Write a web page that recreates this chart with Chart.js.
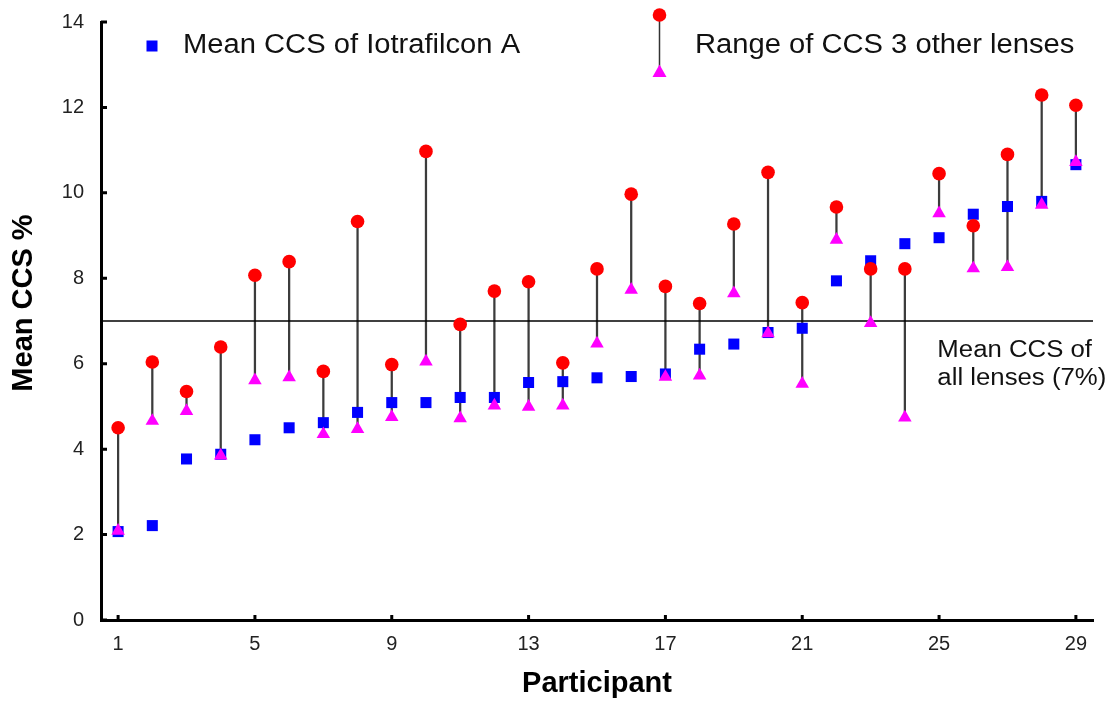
<!DOCTYPE html>
<html>
<head>
<meta charset="utf-8">
<title>Mean CCS per participant</title>
<script src="https://cdn.jsdelivr.net/npm/chart.js@4.4.1/dist/chart.umd.min.js"></script>
<style>
  html, body { margin: 0; padding: 0; background: #fff; }
  #wrap { width: 1116px; height: 704px; }
</style>
</head>
<body>
<div id="wrap"><canvas id="ccs-chart" width="1116" height="704"></canvas></div>
<script>
const participants = [1, 2, 3, 4, 5, 6, 7, 8, 9, 10, 11, 12, 13, 14, 15, 16, 17, 18, 19, 20, 21, 22, 23, 24, 25, 26, 27, 28, 29];
const meanIotrafilcon = [2.07, 2.21, 3.77, 3.88, 4.22, 4.50, 4.62, 4.86, 5.09, 5.09, 5.21, 5.21, 5.56, 5.58, 5.67, 5.70, 5.76, 6.34, 6.46, 6.73, 6.83, 7.94, 8.41, 8.81, 8.95, 9.50, 9.68, 9.80, 10.66];
const rangeMax = [4.50, 6.04, 5.35, 6.39, 8.07, 8.39, 5.82, 9.33, 5.98, 10.97, 6.92, 7.70, 7.92, 6.02, 8.22, 9.97, 7.81, 7.41, 9.27, 10.48, 7.43, 9.67, 8.22, 8.22, 10.45, 9.23, 10.90, 12.29, 12.05];
const rangeMin = [2.09, 4.66, 4.89, 3.85, 5.61, 5.68, 4.35, 4.47, 4.75, 6.05, 4.72, 5.02, 4.99, 5.02, 6.47, 7.73, 5.69, 5.72, 7.65, 6.71, 5.53, 8.90, 6.95, 4.74, 9.52, 8.23, 8.26, 9.72, 10.72];
const meanAllLenses = 7;
const xTicks = [1, 5, 9, 13, 17, 21, 25, 29];
const yTicks = [0, 2, 4, 6, 8, 10, 12, 14];

const FONT = '"Liberation Sans", Arial, sans-serif';

// text drawn a little wider than the font's own width
function wideText(ctx, text, px, py, sx) {
  ctx.save();
  ctx.translate(px, py);
  ctx.scale(sx, 1);
  ctx.fillText(text, 0, 0);
  ctx.restore();
}

const decorations = {
  id: 'decorations',
  afterDraw(chart) {
    const ctx = chart.ctx;
    const xs = chart.scales.x;
    const ys = chart.scales.y;
    ctx.save();

    // tick marks pointing into the plot
    ctx.strokeStyle = '#000';
    ctx.lineWidth = 3;
    ctx.beginPath();
    yTicks.forEach(v => {
      let py = ys.getPixelForValue(v);
      ctx.moveTo(xs.left, py);
      ctx.lineTo(xs.left + 6, py);
    });
    xTicks.forEach(v => {
      let px = xs.getPixelForValue(v);
      ctx.moveTo(px, ys.bottom);
      ctx.lineTo(px, ys.bottom - 5);
    });
    ctx.stroke();

    // y axis title
    ctx.fillStyle = '#000';
    ctx.font = 'bold 29px ' + FONT;
    ctx.textAlign = 'center';
    ctx.textBaseline = 'alphabetic';
    ctx.save();
    ctx.translate(31.5, 303);
    ctx.rotate(-Math.PI / 2);
    ctx.fillText('Mean CCS %', 0, 0);
    ctx.restore();

    // legend
    ctx.textAlign = 'left';
    ctx.fillStyle = '#0000ff';
    ctx.fillRect(146.5, 40.5, 11, 11);

    ctx.strokeStyle = '#333';
    ctx.lineWidth = 1.5;
    ctx.beginPath();
    ctx.moveTo(659.5, 15);
    ctx.lineTo(659.5, 70);
    ctx.stroke();
    ctx.fillStyle = '#ff0000';
    ctx.beginPath();
    ctx.arc(659.5, 15, 6.8, 0, Math.PI * 2);
    ctx.fill();
    ctx.fillStyle = '#ff00ff';
    ctx.beginPath();
    ctx.moveTo(659.5, 64.5);
    ctx.lineTo(666.5, 77);
    ctx.lineTo(652.5, 77);
    ctx.closePath();
    ctx.fill();

    ctx.fillStyle = '#111';
    ctx.font = '27px ' + FONT;
    wideText(ctx, 'Mean CCS of Iotrafilcon A', 183, 53, 1.08);
    wideText(ctx, 'Range of CCS 3 other lenses', 695, 53, 1.08);

    // label for the 7% line
    let ax = xs.getPixelForValue(24.95);
    let ay = ys.getPixelForValue(6.16);
    ctx.font = '23px ' + FONT;
    wideText(ctx, 'Mean CCS of', ax, ay, 1.12);
    wideText(ctx, 'all lenses (7%)', ax, ay + 28, 1.12);

    ctx.restore();
  }
};

const ctx = document.getElementById('ccs-chart').getContext('2d');

new Chart(ctx, {
  type: 'scatter',
  data: {
    datasets: [
      {
        label: 'Range max',
        data: participants.map((p, i) => ({ x: p, y: rangeMax[i] })),
        pointStyle: 'circle',
        pointRadius: 6.8,
        backgroundColor: '#ff0000',
        borderWidth: 0,
        order: 1
      },
      {
        label: 'Range min',
        data: participants.map((p, i) => ({ x: p, y: rangeMin[i] })),
        pointStyle: 'triangle',
        pointRadius: 7.8,
        backgroundColor: '#ff00ff',
        borderWidth: 0,
        order: 1
      },
      {
        label: 'Mean CCS of Iotrafilcon A',
        data: participants.map((p, i) => ({ x: p, y: meanIotrafilcon[i] })),
        pointStyle: 'rect',
        pointRadius: 7.8,
        backgroundColor: '#0000ff',
        borderWidth: 0,
        order: 2
      },
      {
        type: 'line',
        label: 'Mean CCS of all lenses',
        data: [{ x: 0.5, y: meanAllLenses }, { x: 29.5, y: meanAllLenses }],
        borderColor: '#000',
        borderWidth: 1.3,
        pointRadius: 0,
        fill: false,
        order: 3
      },
      {
        type: 'bar',
        label: 'Range of CCS 3 other lenses',
        data: participants.map((p, i) => ({ x: p, y: [rangeMin[i], rangeMax[i]] })),
        backgroundColor: '#3c3c3c',
        barThickness: 1.6,
        order: 4
      }
    ]
  },
  options: {
    responsive: false,
    animation: false,
    events: [],
    layout: { padding: { top: 22, right: 23, left: 0, bottom: 0 } },
    plugins: {
      legend: { display: false },
      tooltip: { enabled: false }
    },
    scales: {
      x: {
        type: 'linear',
        min: 0.5,
        max: 29.5,
        offset: false,
        grid: { display: false, drawTicks: false },
        border: { display: true, color: '#000', width: 3 },
        afterBuildTicks: s => { s.ticks = xTicks.map(v => ({ value: v })); },
        afterFit: s => { s.height = 84; s.paddingLeft = 0; s.paddingRight = 0; },
        ticks: {
          color: '#222',
          font: { family: FONT, size: 20 },
          padding: 12,
          maxRotation: 0,
          autoSkip: false
        },
        title: {
          display: true,
          text: 'Participant',
          color: '#000',
          font: { family: FONT, size: 29, weight: 'bold' },
          padding: { top: 0, bottom: 3 }
        }
      },
      y: {
        type: 'linear',
        min: 0,
        max: 14,
        grid: { display: false, drawTicks: false },
        border: { display: true, color: '#000', width: 3 },
        afterBuildTicks: s => { s.ticks = yTicks.map(v => ({ value: v })); },
        afterFit: s => { s.width = 101; s.paddingTop = 0; s.paddingBottom = 0; },
        ticks: {
          color: '#222',
          font: { family: FONT, size: 20 },
          padding: 17
        }
      }
    }
  },
  plugins: [decorations]
});
</script>
</body>
</html>
